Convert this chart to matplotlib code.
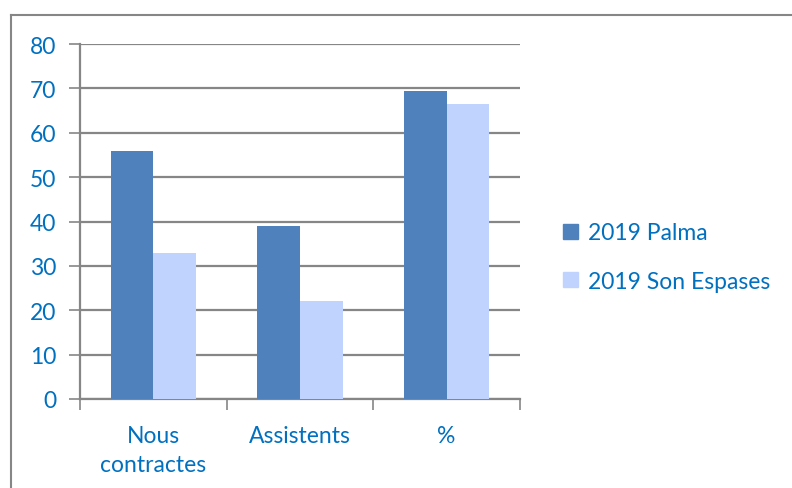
import numpy as np
import matplotlib.pyplot as plt
from matplotlib.lines import Line2D
from matplotlib.patches import Patch

categories = ["Nous\ncontractes", "Assistents", "%"]
palma = [56, 39, 69.4]
son_espases = [33, 22, 66.5]
series_names = ["2019 Palma", "2019 Son Espases"]
yticks = [0, 10, 20, 30, 40, 50, 60, 70, 80]

blue = "#0070C0"
grey = "#868686"
c_palma = "#4F81BD"
c_se = "#C0D3FF"

plt.rcParams['font.family'] = ['Lato', 'DejaVu Sans']
fs = 16.5

W, H = 792, 489
fig = plt.figure(figsize=(W / 100, H / 100), dpi=100)
ax = fig.add_axes([80 / W, 1 - 400 / H, 440 / W, 355 / H])

x = np.arange(len(categories))
bw = 0.29
ax.bar(x - bw / 2, palma, bw, color=c_palma, zorder=3)
ax.bar(x + bw / 2, son_espases, bw, color=c_se, zorder=3)

ax.set_xlim(-0.5, 2.5)
ax.set_ylim(0, 80)
ax.set_yticks(yticks)
ax.yaxis.grid(True, color=grey, linewidth=1.6, zorder=0)
ax.set_axisbelow(True)
ax.tick_params(axis='y', length=8, width=1.2, color=grey, labelcolor=blue,
               labelsize=fs, pad=9)
ax.set_xticks([-0.5, 0.5, 1.5, 2.5])
ax.set_xticklabels([])
ax.set_xticks(x, minor=True)
ax.set_xticklabels(categories, minor=True, color=blue, fontsize=fs,
                   linespacing=1.45)
ax.tick_params(axis='x', which='major', length=8, width=1.2, color=grey,
               direction='out')
ax.tick_params(axis='x', which='minor', length=0, pad=19)

for s in ['top', 'right']:
    ax.spines[s].set_visible(False)
for s in ['left', 'bottom']:
    ax.spines[s].set_color(grey)
    ax.spines[s].set_linewidth(1.6)

handles = [Patch(color=c_palma), Patch(color=c_se)]
leg = fig.legend(handles, series_names, loc='center left',
                 bbox_to_anchor=(542 / W, 1 - 258 / H), frameon=False,
                 fontsize=fs, handlelength=0.65, handleheight=0.65,
                 handletextpad=0.45, labelspacing=1.2)
for t in leg.get_texts():
    t.set_color(blue)

# outer chart border
fig.add_artist(Line2D([11 / W, 11 / W], [0, 1 - 16 / H], color=grey, lw=1.5))
fig.add_artist(Line2D([11 / W, 1], [1 - 16 / H, 1 - 16 / H], color=grey, lw=1.5))

fig.savefig("out.png", dpi=100)
